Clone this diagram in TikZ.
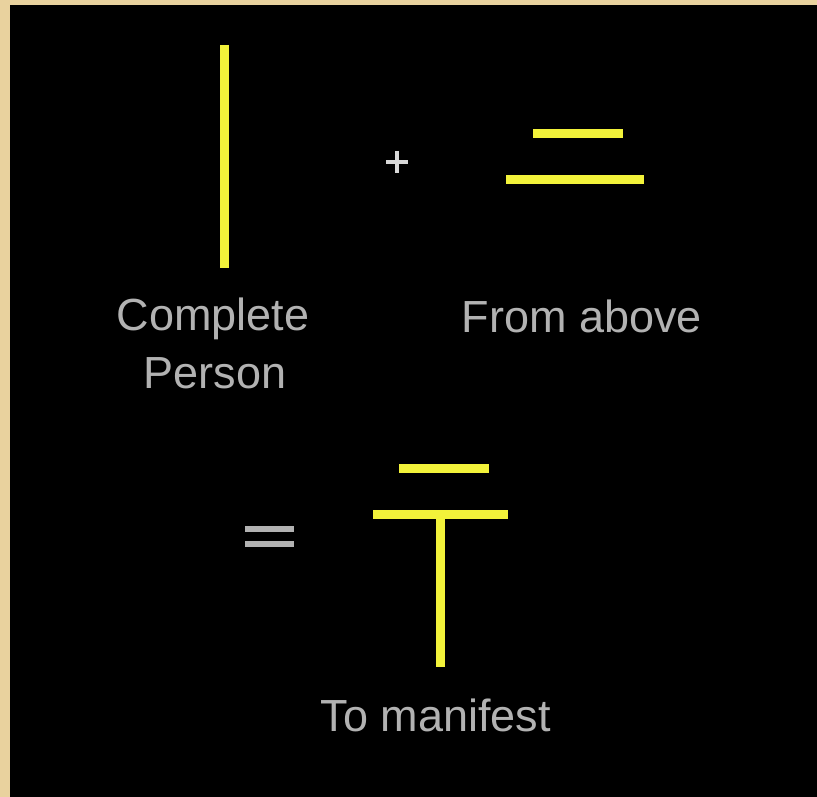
\documentclass[tikz,border=0pt]{standalone}
\usepackage{fontspec}
\setmainfont{Liberation Sans}
\definecolor{tan}{HTML}{E9D29E}
\definecolor{glow}{HTML}{F2F23A}
\definecolor{txt}{HTML}{B2B2B2}
\definecolor{plus}{HTML}{D8D8D8}
\begin{document}
\begin{tikzpicture}[x=1pt,y=-1pt,
  bar/.style={draw=glow,line width=9pt,line cap=butt},
  sign/.style={draw=txt,line cap=butt},
  label/.style={text=txt,font=\fontsize{45}{58}\selectfont,inner sep=0pt,anchor=base}]
\useasboundingbox (0,0) rectangle (817,797);
\fill[tan] (0,0) rectangle (817,797);
\fill[black] (10,5) rectangle (817,797);
% vertical line
\draw[bar] (224,45) -- (224,268);
% plus
\draw[sign,draw=plus,line width=3.5pt] (386,162) -- (408,162);
\draw[sign,draw=plus,line width=3.5pt] (397,151) -- (397,173);
% from above
\draw[bar] (533,134) -- (623,134);
\draw[bar] (506,180) -- (644,180);
% equals
\draw[sign,line width=6pt] (245,529) -- (294,529);
\draw[sign,line width=6pt] (245,544) -- (294,544);
% T
\draw[bar] (399,468) -- (489,468);
\draw[bar] (373,514) -- (508,514);
\draw[bar] (440,514) -- (440,667);
% labels
\node[label] (cp1) at (213,330) {Complete};
\node[label] (cp2) at (215,388) {Person};
\node[label] (fa) at (582,332) {From above};
\node[label] (tm) at (436,731) {To manifest};
\end{tikzpicture}
\end{document}
